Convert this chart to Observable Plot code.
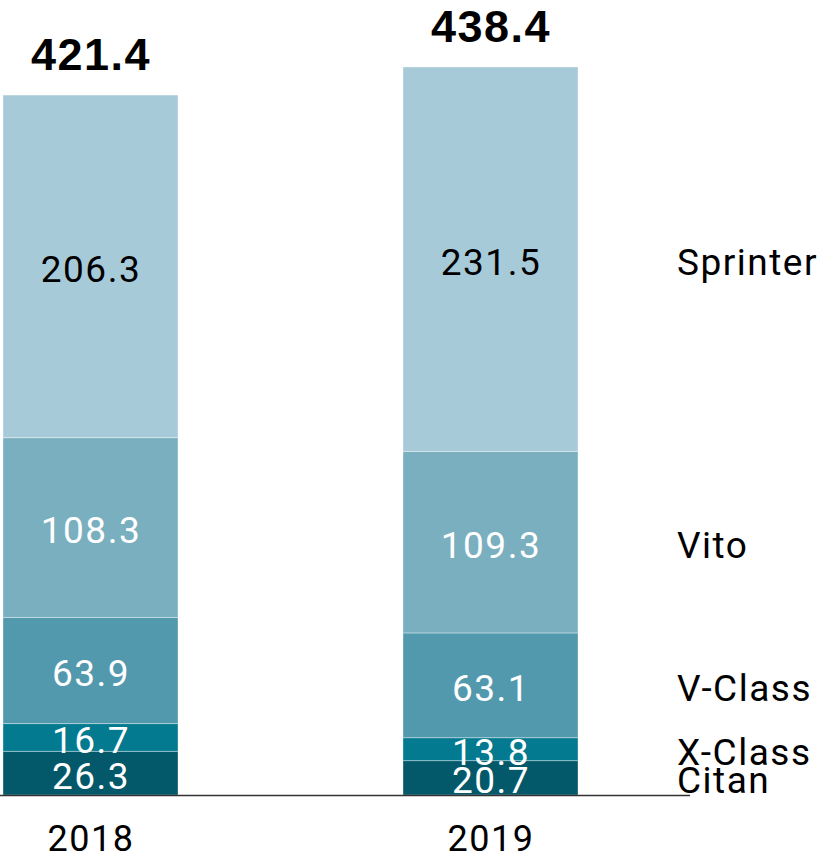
<!DOCTYPE html>
<html><head><meta charset="utf-8">
<script src="https://cdn.jsdelivr.net/npm/d3@7"></script>
<script src="https://cdn.jsdelivr.net/npm/@observablehq/plot@0.6"></script>
<style>body{margin:0;background:#fff}</style>
</head><body><div id="chart"></div>
<script>
const years = ["2018", "2019"];
const models = ["Citan", "X-Class", "V-Class", "Vito", "Sprinter"];
const values2018 = [26.3, 16.7, 63.9, 108.3, 206.3];
const values2019 = [20.7, 13.8, 63.1, 109.3, 231.5];
const totals = [421.4, 438.4];
const colors = ["#03586a", "#037a8f", "#5299ae", "#7aafbf", "#a7cad9"];
const textColors = ["#fff", "#fff", "#fff", "#fff", "#000"];

const rows = [];
[values2018, values2019].forEach((vals, i) => {
  vals.forEach((v, j) => rows.push({year: years[i], model: models[j], value: v}));
});
const totalRows = years.map((y, i) => ({year: y, total: totals[i]}));
const lastYearRows = rows.filter(d => d.year === years[years.length - 1]);

const stackOpts = {x: "year", y: "value", z: "model", order: models};

const chart = Plot.plot({
  width: 834,
  height: 858,
  marginLeft: 3,
  marginRight: 256,
  marginTop: 67,
  marginBottom: 63,
  style: {fontFamily: "Roboto", background: "#fff", letterSpacing: "1.5px"},
  x: {type: "band", domain: years, paddingInner: 0.5625, paddingOuter: 0},
  y: {domain: [0, 438.4], axis: null},
  color: {domain: models, range: colors},
  marks: [
    Plot.barY(rows, Plot.stackY({...stackOpts, fill: "model", stroke: "#ffffff", strokeOpacity: 0.35, strokeWidth: 1})),
    Plot.text(rows, Plot.stackY({...stackOpts, text: d => d.value.toFixed(1), fontSize: 37, dy: 3,
      fill: d => textColors[models.indexOf(d.model)]})),
    Plot.text(lastYearRows, Plot.stackY({...stackOpts, text: "model", dx: 186, dy: 3, textAnchor: "start",
      fontSize: 37, fill: "#000"})),
    Plot.text(totalRows, {x: "year", y: "total", text: d => d.total.toFixed(1), dy: -40,
      fontSize: 45, fontWeight: "bold", fontFamily: "Liberation Sans", fill: "#000"}),
    Plot.axisX({tickSize: 0, tickPadding: 30, fontSize: 36, label: null, color: "#000"}),
    Plot.ruleY([0], {stroke: "#333", strokeWidth: 1.5, insetLeft: -3, insetRight: -112})
  ]
});
document.getElementById("chart").appendChild(chart);
</script></body></html>
